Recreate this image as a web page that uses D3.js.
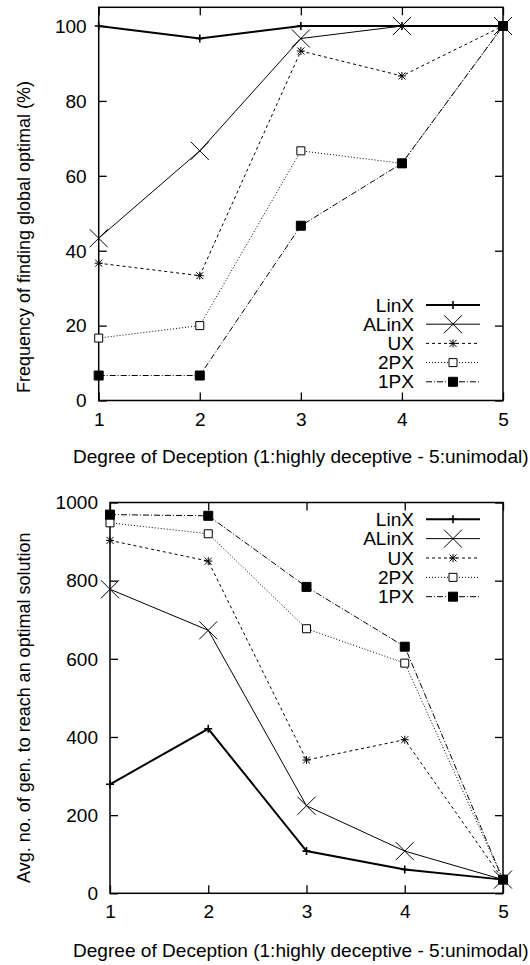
<!DOCTYPE html>
<html>
<head>
<meta charset="utf-8">
<script src="https://cdn.jsdelivr.net/npm/d3@7"></script>
<style>
  body { margin: 0; background: #fff; }
  text { font-family: "Liberation Sans", Arial, sans-serif; font-size: 18px; fill: #000; }
</style>
</head>
<body>
<script>
// data
var degrees = [1, 2, 3, 4, 5];
var seriesNames = ["LinX", "ALinX", "UX", "2PX", "1PX"];

// top: frequency of finding global optimal (%)
var freqLinX  = [100, 96.67, 100, 100, 100];
var freqALinX = [43.33, 66.67, 96.67, 100, 100];
var freqUX    = [36.67, 33.33, 93.33, 86.67, 100];
var freq2PX   = [16.67, 20, 66.67, 63.33, 100];
var freq1PX   = [6.67, 6.67, 46.67, 63.33, 100];
var freqTicks = [0, 20, 40, 60, 80, 100];

// bottom: avg. generations to reach an optimal solution
var genLinX  = [279, 421, 108, 61, 35];
var genALinX = [778, 673, 224, 108, 35];
var genUX    = [903, 850, 341, 393, 35];
var gen2PX   = [948, 920, 677, 589, 35];
var gen1PX   = [969, 966, 784, 631, 35];
var genTicks = [0, 200, 400, 600, 800, 1000];

var xLabel = "Degree of Deception (1:highly deceptive - 5:unimodal)";

var stretch = 1.06;

// line style per series: width, dash, marker
var styles = {
  "LinX":  {w: 2,   dash: null,        mark: "plus"},
  "ALinX": {w: 1,   dash: null,        mark: "cross"},
  "UX":    {w: 1,   dash: "3,3",       mark: "star"},
  "2PX":   {w: 1,   dash: "1,2",       mark: "box"},
  "1PX":   {w: 1,   dash: "6,2,1,2",   mark: "fbox"}
};

function markerPath(type){
  var p = d3.path();
  if (type == "plus") {
    p.moveTo(-4, 0); p.lineTo(4, 0); p.moveTo(0, -4); p.lineTo(0, 4);
  } else if (type == "cross") {
    p.moveTo(-9, -9); p.lineTo(9, 9); p.moveTo(-9, 9); p.lineTo(9, -9);
  } else if (type == "star") {
    p.moveTo(-4, 0); p.lineTo(4, 0); p.moveTo(0, -4); p.lineTo(0, 4);
    p.moveTo(-3.5, -3.5); p.lineTo(3.5, 3.5); p.moveTo(-3.5, 3.5); p.lineTo(3.5, -3.5);
  } else {
    var s = type == "box" ? 4 : 4.5;
    p.rect(-s, -s, 2 * s, 2 * s);
  }
  return p.toString();
}

function drawMarker(g, type, x, y){
  var m = g.append("path")
    .attr("d", markerPath(type))
    .attr("transform", "translate(" + x + "," + y + ")")
    .attr("stroke", "#000")
    .attr("stroke-width", type == "plus" ? 1.6 : 1);
  if (type == "fbox") m.attr("fill", "#000");
  else if (type == "box") m.attr("fill", "#fff");
  else m.attr("fill", "none");
}

function stretchText(sel, x, y, rot){
  sel.attr("transform", "translate(" + x + "," + y + ") scale(" + stretch + ",1)" + (rot ? " rotate(-90)" : ""));
}

var svg = d3.select("body")
  .append("svg")
  .attr("width", 530)
  .attr("height", 965);

function draw_panel(opt){
  var width = opt.right - opt.left,
      height = opt.bottom - opt.top;

  var x = d3.scaleLinear().domain([1, 5]).range([0, width]);
  var y = d3.scaleLinear().domain(opt.ydomain).range([height, 0]);

  var g = svg.append("g")
    .attr("transform", "translate(" + opt.left + "," + opt.top + ")");

  // ticks point inward, mirrored on top and right
  var xAxis = d3.axisBottom(x).tickValues(degrees).tickSizeInner(-8).tickSizeOuter(0).tickPadding(opt.xpad).tickFormat(d3.format("d"));
  var yAxis = d3.axisLeft(y).tickValues(opt.yticks).tickSizeInner(-8).tickSizeOuter(0).tickPadding(12).tickFormat(d3.format("d"));

  var gx = g.append("g").attr("transform", "translate(0," + height + ")").call(xAxis);
  var gy = g.append("g").call(yAxis);
  g.append("g").call(d3.axisTop(x).tickValues(degrees).tickSizeInner(-8).tickSizeOuter(0).tickFormat(""));
  g.append("g").attr("transform", "translate(" + width + ",0)")
    .call(d3.axisRight(y).tickValues(opt.yticks).tickSizeInner(-8).tickSizeOuter(0).tickFormat(""));

  g.selectAll(".domain").remove();
  g.selectAll(".tick line").attr("stroke", "#000").attr("stroke-width", 1.3);
  g.selectAll(".tick text").style("font-size", "18px").style("font-family", "'Liberation Sans', Arial, sans-serif").attr("fill", "#000");
  gx.selectAll(".tick text").attr("transform", "scale(" + stretch + ",1)");
  gy.selectAll(".tick text").attr("x", -12 / stretch).attr("dy", "0.35em").attr("transform", "scale(" + stretch + ",1)");

  g.append("rect")
    .attr("width", width)
    .attr("height", height)
    .attr("fill", "none")
    .attr("stroke", "#000")
    .attr("stroke-width", 1.5);

  var line = d3.line()
    .x(function(d, i) { return x(degrees[i]); })
    .y(function(d) { return y(d); });

  for (var k = 0; k < seriesNames.length; k++) {
    var name = seriesNames[k], st = styles[name], vals = opt.series[k];
    g.append("path")
      .datum(vals)
      .attr("d", line)
      .attr("fill", "none")
      .attr("stroke", "#000")
      .attr("stroke-width", st.w)
      .attr("stroke-dasharray", st.dash);
    for (var i = 0; i < vals.length; i++) {
      drawMarker(g, st.mark, x(degrees[i]), y(vals[i]));
    }

    var ly = opt.legendY + k * opt.legendStep;
    var lt = svg.append("text").attr("text-anchor", "end").text(name);
    stretchText(lt, 414, ly + 6.5);
    svg.append("line")
      .attr("x1", 426).attr("x2", 480)
      .attr("y1", ly).attr("y2", ly)
      .attr("stroke", "#000")
      .attr("stroke-width", st.w)
      .attr("stroke-dasharray", st.dash);
    drawMarker(svg, st.mark, 453, ly);
  }

  var xl = svg.append("text").attr("text-anchor", "start").text(xLabel);
  stretchText(xl, opt.xLabelX, opt.xLabelY);

  var yl = svg.append("text").attr("text-anchor", "start").text(opt.ylabel);
  stretchText(yl, 30, opt.yLabelY, true);
}

draw_panel({
  left: 98.7, right: 503, top: 7.3, bottom: 400.5,
  ydomain: [0, 105], yticks: freqTicks, xpad: 13,
  series: [freqLinX, freqALinX, freqUX, freq2PX, freq1PX],
  legendY: 305, legendStep: 19.2,
  xLabelX: 73, xLabelY: 463,
  ylabel: "Frequency of finding global optimal (%)", yLabelY: 393
});

draw_panel({
  left: 110, right: 503, top: 502.5, bottom: 893.3,
  ydomain: [0, 1000], yticks: genTicks, xpad: 12,
  series: [genLinX, genALinX, genUX, gen2PX, gen1PX],
  legendY: 519.3, legendStep: 19.35,
  xLabelX: 73, xLabelY: 957,
  ylabel: "Avg. no. of gen. to reach an optimal solution", yLabelY: 883
});
</script>
</body>
</html>
